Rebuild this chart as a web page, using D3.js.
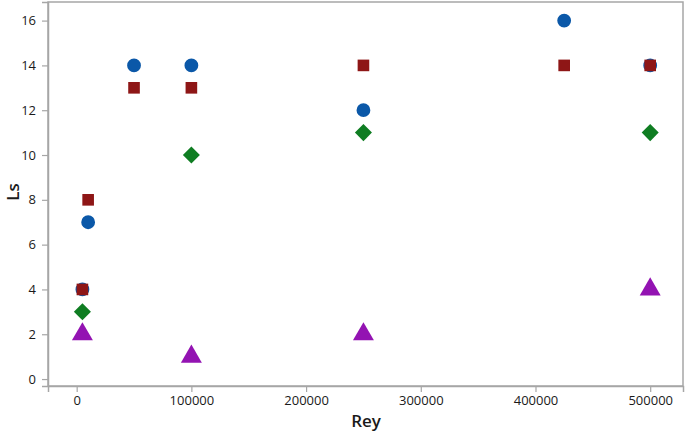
<!DOCTYPE html>
<html>
<head>
<meta charset="utf-8">
<script src="https://cdn.jsdelivr.net/npm/d3@7"></script>
<style>
  body { margin: 0; background: #fff; }
  text { font-family: "Open Sans", "Noto Sans", sans-serif; }
</style>
</head>
<body>
<div class="canva"></div>
<script>
// datos
const reyCircle = [5000, 10000, 50000, 100000, 250000, 425000, 500000];
const lsCircle = [4, 7, 14, 14, 12, 16, 14];
const reySquare = [5000, 10000, 50000, 100000, 250000, 425000, 500000];
const lsSquare = [4, 8, 13, 13, 14, 14, 14];
const reyDiamond = [5000, 100000, 250000, 500000];
const lsDiamond = [3, 10, 11, 11];
const reyTriangle = [5000, 100000, 250000, 500000];
const lsTriangle = [2, 1, 2, 4];
const xTicks = [0, 100000, 200000, 300000, 400000, 500000];
const yTicks = [0, 2, 4, 6, 8, 10, 12, 14, 16];

const W = 685, H = 433;
const pLeft = 48, pRight = 683, pTop = 2, pBottom = 386;

const svg = d3.select(".canva")
  .append("svg")
  .attr("width", W)
  .attr("height", H);

const x = d3.scaleLinear().domain([-25000, 528600]).range([pLeft, pRight]);
const y = d3.scaleLinear().domain([-0.31, 16.83]).range([pBottom, pTop]);

// marco
svg.append("rect")
  .attr("x", pLeft).attr("y", pTop)
  .attr("width", pRight - pLeft).attr("height", pBottom - pTop)
  .attr("fill", "none").attr("stroke", "#a6a6a6").attr("stroke-width", 1.5);

const xAxis = svg.append("g")
  .attr("transform", `translate(0,${pBottom})`)
  .call(d3.axisBottom(x).tickValues(xTicks).tickFormat(d3.format("d")).tickSize(6).tickPadding(4));
const yAxis = svg.append("g")
  .attr("transform", `translate(${pLeft},0)`)
  .call(d3.axisLeft(y).tickValues(yTicks).tickSize(6).tickPadding(6));

[xAxis, yAxis].forEach(g => {
  g.select(".domain").attr("stroke", "#a6a6a6").attr("stroke-width", 1.5);
  g.selectAll(".tick line").attr("stroke", "#a6a6a6").attr("stroke-width", 1.2);
  g.selectAll(".tick text")
    .attr("fill", "#1a1a1a")
    .style("font-size", "13px")
    .style("font-family", "'Open Sans', 'Noto Sans', sans-serif");
});

svg.append("text")
  .attr("x", 366).attr("y", 427)
  .attr("text-anchor", "middle")
  .style("font-size", "17px").style("font-weight", 600)
  .attr("fill", "#1a1a1a")
  .text("Rey");

svg.append("text")
  .attr("transform", "translate(19,192) rotate(-90)")
  .attr("text-anchor", "middle")
  .style("font-size", "17px").style("font-weight", 600)
  .attr("fill", "#1a1a1a")
  .text("Ls");

const series = [
  { xs: reyCircle, ys: lsCircle, type: d3.symbolCircle, size: 150, rot: 0, color: "#0b58a8" },
  { xs: reySquare, ys: lsSquare, type: d3.symbolSquare, size: 135, rot: 0, color: "#8e1616" },
  { xs: reyDiamond, ys: lsDiamond, type: d3.symbolSquare, size: 145, rot: 45, color: "#0f7d22" },
  { xs: reyTriangle, ys: lsTriangle, type: d3.symbolTriangle, size: 190, rot: 0, color: "#9313b2" }
];

series.forEach(s => {
  const pts = s.xs.map((v, i) => [v, s.ys[i]]);
  svg.append("g")
    .selectAll("path")
    .data(pts)
    .enter()
    .append("path")
    .attr("d", d3.symbol().type(s.type).size(s.size))
    .attr("transform", d => `translate(${x(d[0])},${y(d[1])}) rotate(${s.rot})`)
    .attr("fill", s.color);
});
</script>
</body>
</html>
